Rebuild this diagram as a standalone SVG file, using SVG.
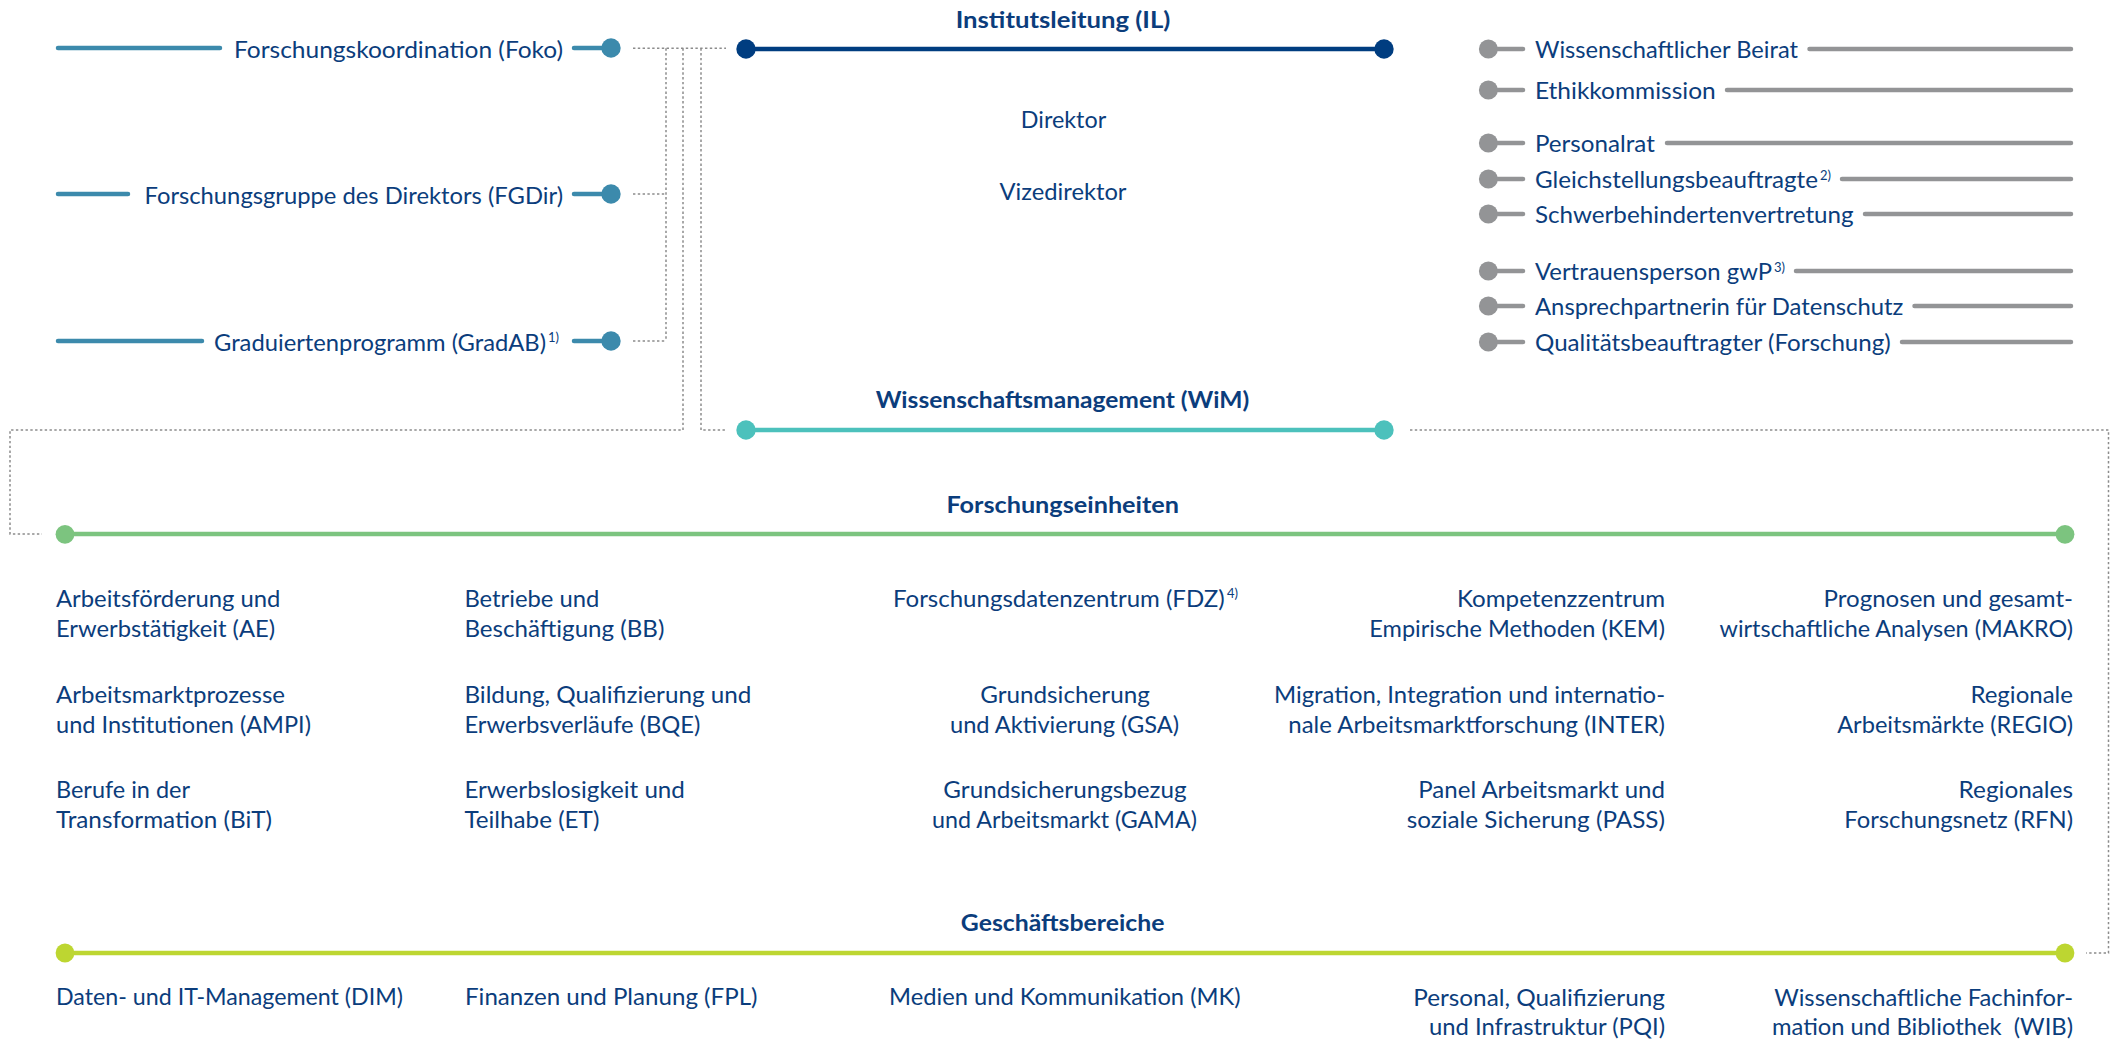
<svg xmlns="http://www.w3.org/2000/svg" width="2118" height="1043" viewBox="0 0 2118 1043">
<style>
text{font-family:Lato,"Liberation Sans",sans-serif;font-size:23px;fill:#0b3d7c}
.b{font-weight:700}
.m{text-anchor:middle}
.e{text-anchor:end}
.sup{font-size:13px}
.ln{fill:none;stroke-width:4.5;stroke-linecap:round}
.dot{fill:none;stroke:#8c8c8c;stroke-width:1.5;stroke-dasharray:2.4 2.4}
.il{stroke:#003d80}.ild{fill:#003d80}
.te{stroke:#3c8aac}.ted{fill:#3c8aac}
.wi{stroke:#4cc1bc}.wid{fill:#4cc1bc}
.gr{stroke:#7cc47f}.grd{fill:#7cc47f}
.li{stroke:#bdd631}.lid{fill:#bdd631}
.gy{stroke:#939496}.gyd{fill:#939496}
</style>
<rect width="2118" height="1043" fill="#fff"/>

<g id="connectors">
<path class="dot" d="M633 48.3H726"/>
<path class="dot" d="M666 48.3V341M633 194H666M633 341H666"/>
<path class="dot" d="M683 48.3V430H10V534H42"/>
<path class="dot" d="M701 48.3V430H726"/>
<path class="dot" d="M1410 430H2108.5V953H2086"/>
</g>

<g id="institutsleitung">
<text class="b m" x="1063" y="28.3" textLength="214.7" lengthAdjust="spacingAndGlyphs">Institutsleitung (IL)</text>
<path class="ln il" d="M746 49H1384"/>
<circle class="ild" cx="746" cy="49" r="9.7"/>
<circle class="ild" cx="1384" cy="49" r="9.7"/>
<text class="m" x="1063.5" y="128.3" textLength="85.3" lengthAdjust="spacingAndGlyphs">Direktor</text>
<text class="m" x="1063" y="200" textLength="127" lengthAdjust="spacingAndGlyphs">Vizedirektor</text>
</g>

<g id="foko">
<path class="ln te" d="M58 48H220M574 48H611"/>
<circle class="ted" cx="611" cy="48" r="9.7"/>
<text x="234" y="57.5" textLength="329" lengthAdjust="spacingAndGlyphs">Forschungskoordination (Foko)</text>
</g>
<g id="fgdir">
<path class="ln te" d="M58 194H128M574 194H611"/>
<circle class="ted" cx="611" cy="194" r="9.7"/>
<text x="144.5" y="203.5" textLength="418.5" lengthAdjust="spacingAndGlyphs">Forschungsgruppe des Direktors (FGDir)</text>
</g>
<g id="gradab">
<path class="ln te" d="M58 341H202M574 341H611"/>
<circle class="ted" cx="611" cy="341" r="9.7"/>
<text x="214" y="350.5" textLength="332" lengthAdjust="spacingAndGlyphs">Graduiertenprogramm (GradAB)</text>
<text class="sup" x="548" y="342">1)</text>
</g>

<g id="beirat">
<circle class="gyd" cx="1488.4" cy="49" r="9.5"/>
<path class="ln gy" d="M1488 49H1523M1809.5 49H2071"/>
<text x="1535" y="58" textLength="263" lengthAdjust="spacingAndGlyphs">Wissenschaftlicher Beirat</text>
</g>
<g id="ethik">
<circle class="gyd" cx="1488.4" cy="90" r="9.5"/>
<path class="ln gy" d="M1488 90H1523M1727 90H2071"/>
<text x="1535" y="99" textLength="180.7" lengthAdjust="spacingAndGlyphs">Ethikkommission</text>
</g>
<g id="personalrat">
<circle class="gyd" cx="1488.4" cy="143" r="9.5"/>
<path class="ln gy" d="M1488 143H1523M1667 143H2071"/>
<text x="1535" y="152" textLength="119.8" lengthAdjust="spacingAndGlyphs">Personalrat</text>
</g>
<g id="gleichstellung">
<circle class="gyd" cx="1488.4" cy="179" r="9.5"/>
<path class="ln gy" d="M1488 179H1523M1842 179H2071"/>
<text x="1535" y="188" textLength="283" lengthAdjust="spacingAndGlyphs">Gleichstellungsbeauftragte</text>
<text class="sup" x="1820" y="180">2)</text>
</g>
<g id="schwerbehindertenvertretung">
<circle class="gyd" cx="1488.4" cy="214" r="9.5"/>
<path class="ln gy" d="M1488 214H1523M1865 214H2071"/>
<text x="1535" y="223" textLength="318.6" lengthAdjust="spacingAndGlyphs">Schwerbehindertenvertretung</text>
</g>
<g id="vertrauensperson">
<circle class="gyd" cx="1488.4" cy="271" r="9.5"/>
<path class="ln gy" d="M1488 271H1523M1796 271H2071"/>
<text x="1535" y="280" textLength="237" lengthAdjust="spacingAndGlyphs">Vertrauensperson gwP</text>
<text class="sup" x="1774" y="272">3)</text>
</g>
<g id="datenschutz">
<circle class="gyd" cx="1488.4" cy="306" r="9.5"/>
<path class="ln gy" d="M1488 306H1523M1914.5 306H2071"/>
<text x="1535" y="315" textLength="368.4" lengthAdjust="spacingAndGlyphs">Ansprechpartnerin für Datenschutz</text>
</g>
<g id="qualitaet">
<circle class="gyd" cx="1488.4" cy="342" r="9.5"/>
<path class="ln gy" d="M1488 342H1523M1902 342H2071"/>
<text x="1535" y="351" textLength="355.8" lengthAdjust="spacingAndGlyphs">Qualitätsbeauftragter (Forschung)</text>
</g>

<g id="wim">
<text class="b m" x="1062.5" y="408.3" textLength="373.7" lengthAdjust="spacingAndGlyphs">Wissenschaftsmanagement (WiM)</text>
<path class="ln wi" d="M746 430H1384"/>
<circle class="wid" cx="746" cy="430" r="9.7"/>
<circle class="wid" cx="1384" cy="430" r="9.7"/>
</g>

<g id="forschungseinheiten">
<text class="b m" x="1062.7" y="513.3" textLength="232.6" lengthAdjust="spacingAndGlyphs">Forschungseinheiten</text>
<path class="ln gr" d="M65 534H2065"/>
<circle class="grd" cx="65" cy="534.3" r="9.4"/>
<circle class="grd" cx="2065" cy="534.3" r="9.4"/>
<g id="ae"><text x="56" y="606.5" textLength="224.4" lengthAdjust="spacingAndGlyphs">Arbeitsförderung und</text><text x="56" y="636.5" textLength="219" lengthAdjust="spacingAndGlyphs">Erwerbstätigkeit (AE)</text></g>
<g id="ampi"><text x="56" y="703" textLength="229" lengthAdjust="spacingAndGlyphs">Arbeitsmarktprozesse</text><text x="56" y="733" textLength="255" lengthAdjust="spacingAndGlyphs">und Institutionen (AMPI)</text></g>
<g id="bit"><text x="56" y="798" textLength="134" lengthAdjust="spacingAndGlyphs">Berufe in der</text><text x="56" y="828" textLength="216" lengthAdjust="spacingAndGlyphs">Transformation (BiT)</text></g>
<g id="bb"><text x="464.4" y="606.5" textLength="135" lengthAdjust="spacingAndGlyphs">Betriebe und</text><text x="464.4" y="636.5" textLength="200" lengthAdjust="spacingAndGlyphs">Beschäftigung (BB)</text></g>
<g id="bqe"><text x="464.4" y="703" textLength="287" lengthAdjust="spacingAndGlyphs">Bildung, Qualifizierung und</text><text x="464.4" y="733" textLength="236" lengthAdjust="spacingAndGlyphs">Erwerbsverläufe (BQE)</text></g>
<g id="et"><text x="464.4" y="798" textLength="220.5" lengthAdjust="spacingAndGlyphs">Erwerbslosigkeit und</text><text x="464.4" y="828" textLength="135" lengthAdjust="spacingAndGlyphs">Teilhabe (ET)</text></g>
<g id="fdz"><text x="893" y="606.5" textLength="331.7" lengthAdjust="spacingAndGlyphs">Forschungsdatenzentrum (FDZ)</text><text class="sup" x="1227" y="598">4)</text></g>
<g id="gsa"><text class="m" x="1065" y="703" textLength="169.6" lengthAdjust="spacingAndGlyphs">Grundsicherung</text><text class="m" x="1064.5" y="733" textLength="229" lengthAdjust="spacingAndGlyphs">und Aktivierung (GSA)</text></g>
<g id="gama"><text class="m" x="1065" y="798" textLength="243.3" lengthAdjust="spacingAndGlyphs">Grundsicherungsbezug</text><text class="m" x="1064.5" y="828" textLength="264.9" lengthAdjust="spacingAndGlyphs">und Arbeitsmarkt (GAMA)</text></g>
<g id="kem"><text class="e" x="1665" y="606.5" textLength="208" lengthAdjust="spacingAndGlyphs">Kompetenzzentrum</text><text class="e" x="1665" y="636.5" textLength="295.7" lengthAdjust="spacingAndGlyphs">Empirische Methoden (KEM)</text></g>
<g id="inter"><text class="e" x="1665" y="703" textLength="391" lengthAdjust="spacingAndGlyphs">Migration, Integration und internatio-</text><text class="e" x="1665" y="733" textLength="376.7" lengthAdjust="spacingAndGlyphs">nale Arbeitsmarktforschung (INTER)</text></g>
<g id="pass"><text class="e" x="1665" y="798" textLength="246.7" lengthAdjust="spacingAndGlyphs">Panel Arbeitsmarkt und</text><text class="e" x="1665" y="828" textLength="258.3" lengthAdjust="spacingAndGlyphs">soziale Sicherung (PASS)</text></g>
<g id="makro"><text class="e" x="2073" y="606.5" textLength="249.4" lengthAdjust="spacingAndGlyphs">Prognosen und gesamt-</text><text class="e" x="2073" y="636.5" textLength="353.4" lengthAdjust="spacingAndGlyphs">wirtschaftliche Analysen (MAKRO)</text></g>
<g id="regio"><text class="e" x="2073" y="703" textLength="102.6" lengthAdjust="spacingAndGlyphs">Regionale</text><text class="e" x="2073" y="733" textLength="235.8" lengthAdjust="spacingAndGlyphs">Arbeitsmärkte (REGIO)</text></g>
<g id="rfn"><text class="e" x="2073" y="798" textLength="114.4" lengthAdjust="spacingAndGlyphs">Regionales</text><text class="e" x="2073" y="828" textLength="228.7" lengthAdjust="spacingAndGlyphs">Forschungsnetz (RFN)</text></g>
</g>

<g id="geschaeftsbereiche">
<text class="b m" x="1062.6" y="930.7" textLength="203.6" lengthAdjust="spacingAndGlyphs">Geschäftsbereiche</text>
<path class="ln li" d="M65 953H2065"/>
<circle class="lid" cx="65" cy="953" r="9.4"/>
<circle class="lid" cx="2065" cy="953" r="9.4"/>
<g id="dim"><text x="56" y="1005" textLength="347" lengthAdjust="spacingAndGlyphs">Daten- und IT-Management (DIM)</text></g>
<g id="fpl"><text x="465" y="1005" textLength="292.5" lengthAdjust="spacingAndGlyphs">Finanzen und Planung (FPL)</text></g>
<g id="mk"><text class="m" x="1064.8" y="1005" textLength="351.5" lengthAdjust="spacingAndGlyphs">Medien und Kommunikation (MK)</text></g>
<g id="pqi"><text class="e" x="1665" y="1005.5" textLength="251.8" lengthAdjust="spacingAndGlyphs">Personal, Qualifizierung</text><text class="e" x="1665" y="1035" textLength="236" lengthAdjust="spacingAndGlyphs">und Infrastruktur (PQI)</text></g>
<g id="wib"><text class="e" x="2073" y="1005.5" textLength="298.8" lengthAdjust="spacingAndGlyphs">Wissenschaftliche Fachinfor-</text><text class="e" x="2073" y="1035" textLength="301" lengthAdjust="spacingAndGlyphs">mation und Bibliothek&#160; (WIB)</text></g>
</g>
</svg>
